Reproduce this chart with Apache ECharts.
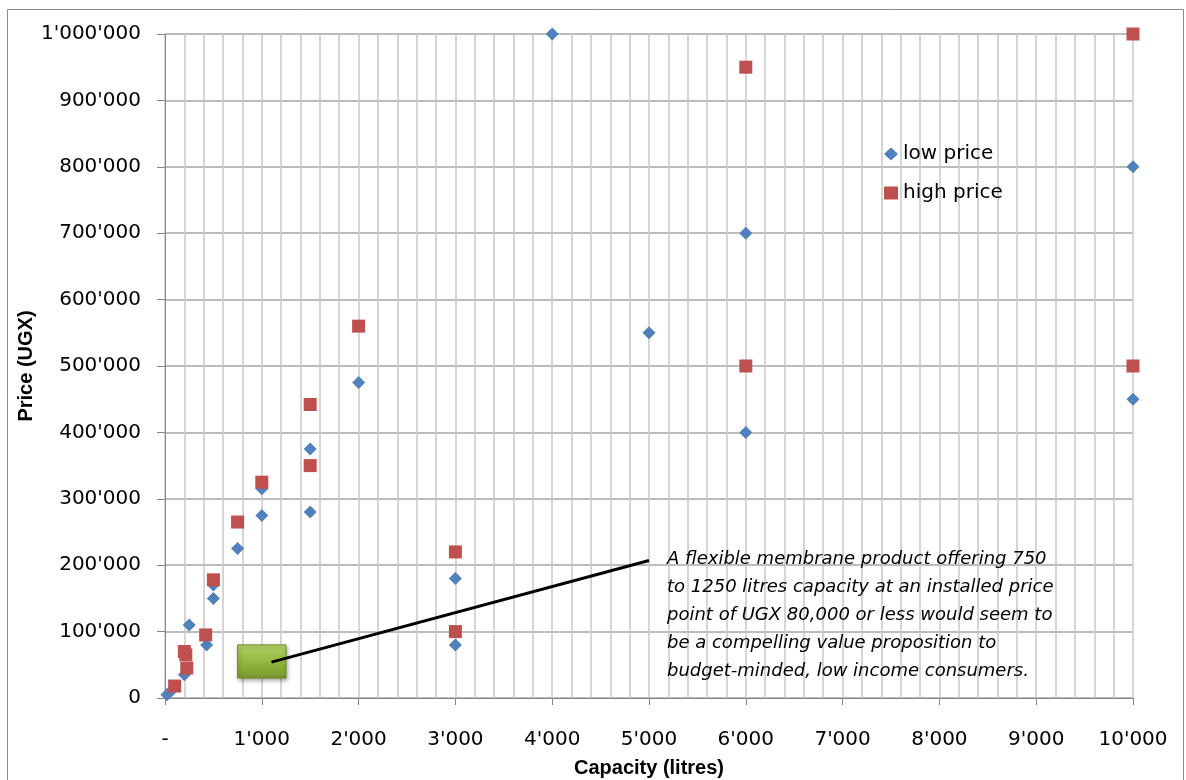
<!DOCTYPE html>
<html>
<head>
<meta charset="utf-8">
<script src="https://cdn.jsdelivr.net/npm/echarts@6/dist/echarts.min.js"></script>
<style>
html,body{margin:0;padding:0;background:#fff;}
#chart{width:1186px;height:780px;}
</style>
</head>
<body>
<div id="chart"></div>
<script>
// ---- data ----
const lowPriceCapacity = [20, 60, 100, 200, 250, 430, 500, 500, 750, 1000, 1000, 1500, 1500, 2000, 3000, 3000, 4000, 5000, 6000, 6000, 10000, 10000];
const lowPriceValue    = [5000, 10000, 18000, 35000, 110000, 80000, 150000, 170000, 225000, 315000, 275000, 375000, 280000, 475000, 180000, 80000, 1000000, 550000, 700000, 400000, 800000, 450000];
const highPriceCapacity = [100, 200, 215, 225, 420, 500, 750, 1000, 1500, 1500, 2000, 3000, 3000, 6000, 6000, 10000, 10000];
const highPriceValue    = [18000, 70000, 65000, 45000, 95000, 178000, 265000, 325000, 442000, 350000, 560000, 220000, 100000, 950000, 500000, 1000000, 500000];
const seriesNames = ['low price', 'high price'];
const xAxisTitle = 'Capacity (litres)';
const yAxisTitle = 'Price (UGX)';
// annotation (data coordinates)
const targetBoxCapacity = [750, 1250];
const targetBoxPrice = [30000, 80000];
const calloutCapacity = [1100, 5000];
const calloutPrice = [54000, 207000];
const annotationLines = [
  'A flexible membrane product offering 750',
  'to 1250 litres capacity at an installed price',
  'point of UGX 80,000 or less would seem to',
  'be a compelling value proposition to',
  'budget-minded, low income consumers.'
];

function fmt(v) {
  return String(Math.round(v)).replace(/\B(?=(\d{3})+(?!\d))/g, "'");
}
const zip = (a, b) => a.map((v, i) => [v, b[i]]);

const chart = echarts.init(document.getElementById('chart'), null, {renderer: 'canvas'});
const FONT = 'DejaVu Sans';
const option = {
  backgroundColor: '#ffffff',
  animation: false,
  grid: {left: 165, right: 53, top: 34, bottom: 82, containLabel: false, outerBoundsMode: 'none'},
  legend: {
    data: seriesNames,
    orient: 'vertical',
    left: 879, top: 139,
    itemGap: 19,
    itemWidth: 14, itemHeight: 13,
    textStyle: {fontFamily: FONT, fontSize: 20, color: '#000'}
  },
  xAxis: {
    type: 'value', min: 0, max: 10000, interval: 1000,
    name: xAxisTitle, nameLocation: 'middle', nameGap: 60, nameMoveOverlap: false,
    nameTextStyle: {fontFamily: 'Liberation Sans', fontWeight: 'bold', fontSize: 20, color: '#000'},
    axisLine: {show: true, onZero: false, lineStyle: {color: '#868686', width: 1}},
    axisTick: {show: true, length: 7, lineStyle: {color: '#868686'}},
    axisLabel: {margin: 32, fontFamily: FONT, fontSize: 20, color: '#000',
      formatter: v => v === 0 ? '-' : fmt(v)},
    splitLine: {show: true, lineStyle: {color: '#c8c8c8', width: 1.5}},
    minorTick: {show: false, splitNumber: 5},
    minorSplitLine: {show: true, lineStyle: {color: '#c8c8c8', width: 1.5}}
  },
  yAxis: {
    type: 'value', min: 0, max: 1000000, interval: 100000,
    name: yAxisTitle, nameLocation: 'middle', nameGap: 129, nameMoveOverlap: false,
    nameTextStyle: {fontFamily: 'Liberation Sans', fontWeight: 'bold', fontSize: 20, color: '#000'},
    axisLine: {show: true, lineStyle: {color: '#868686', width: 1}},
    axisTick: {show: true, length: 8, lineStyle: {color: '#868686'}},
    axisLabel: {margin: 24, fontFamily: FONT, fontSize: 20, color: '#000',
      formatter: v => fmt(v)},
    splitLine: {show: true, lineStyle: {color: '#a6a6a6', width: 1.5}}
  },
  series: [
    {
      name: 'target', type: 'scatter', data: [], silent: true, z: 3,
      markArea: {
        silent: true,
        itemStyle: {
          color: new echarts.graphic.LinearGradient(0, 0, 0, 1, [
            {offset: 0, color: '#b5d36a'},
            {offset: 0.5, color: '#93b83e'},
            {offset: 1, color: '#77982c'}
          ]),
          opacity: 1,
          borderColor: '#6f8f27', borderWidth: 1,
          shadowColor: 'rgba(0,0,0,0.35)', shadowBlur: 4, shadowOffsetX: 1, shadowOffsetY: 2
        },
        data: [[{xAxis: targetBoxCapacity[0], yAxis: targetBoxPrice[0]}, {xAxis: targetBoxCapacity[1], yAxis: targetBoxPrice[1]}]]
      }
    },
    {
      name: 'callout', type: 'line', data: zip(calloutCapacity, calloutPrice), symbol: 'none', silent: true, z: 4,
      lineStyle: {color: '#000', width: 3}
    },
    {
      name: seriesNames[0], type: 'scatter', symbol: 'diamond', symbolSize: 13, clip: false, z: 5,
      itemStyle: {color: '#4f81bd', opacity: 1},
      data: zip(lowPriceCapacity, lowPriceValue)
    },
    {
      name: seriesNames[1], type: 'scatter', symbol: 'rect', symbolSize: 13, clip: false, z: 6,
      itemStyle: {color: '#c0504d', opacity: 1},
      data: zip(highPriceCapacity, highPriceValue)
    }
  ],
  graphic: [
    {type: 'rect', silent: true, z: 0, shape: {x: 7.5, y: 9.5, width: 1176, height: 800},
     style: {fill: 'none', stroke: '#8a8a8a', lineWidth: 1}},
    {type: 'text', left: 667, top: 545, z: 10,
     style: {text: annotationLines.join('\n'), font: 'italic 18px "DejaVu Sans"', lineHeight: 28, fill: '#000'}}
  ]
};
chart.setOption(option);
</script>
</body>
</html>
